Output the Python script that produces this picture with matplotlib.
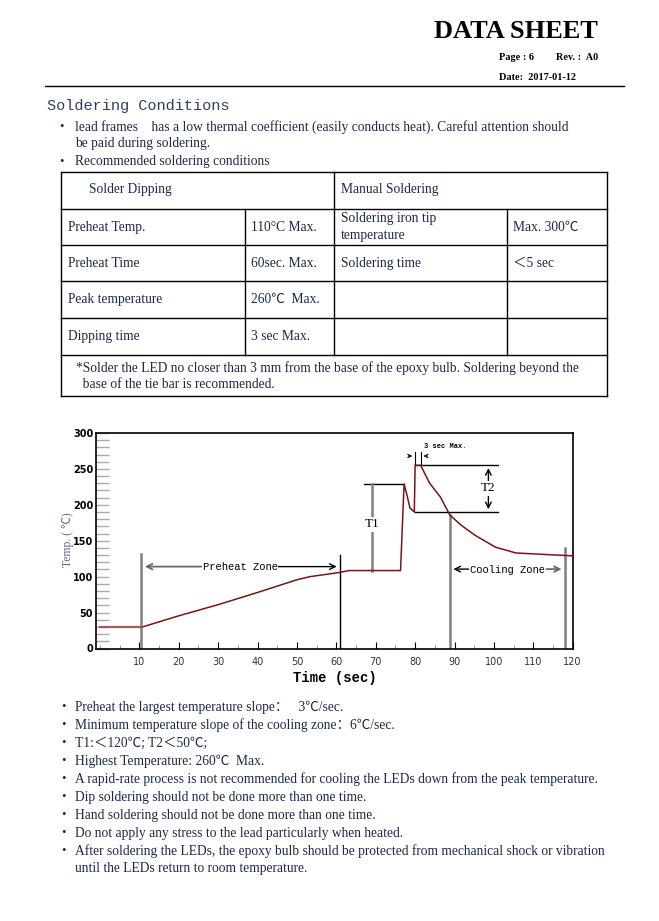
import matplotlib
matplotlib.use("Agg")
import matplotlib.pyplot as plt
from matplotlib.ticker import MultipleLocator

# Reflow profile
time_s = [10.5, 20, 30, 40, 50, 53.3, 61, 63.2, 76.3, 77.2, 78.0, 78.7, 79.8,
          80.0, 81.4, 83.7, 86.4, 88.8, 91.6, 95.1, 100.4, 105.6, 114.4, 120]
temp_c = [29.5, 45.5, 61, 78, 95.7, 100, 106, 108.5, 108.5, 229, 212, 195.5, 190,
          255, 255, 230, 211, 186, 172, 158, 141, 133, 130.5, 129]
start_time = [0, 10.5]
start_temp = [29.5, 29.5]

# Zone boundary lines (x position, height)
zone_x = [10.5, 61, 88.8, 118.1]
zone_top = [131, 129.6, 186, 140]
zone_color = ["gray", "black", "gray", "gray"]

x_ticks = [10, 20, 30, 40, 50, 60, 70, 80, 90, 100, 110, 120]
y_ticks = [0, 50, 100, 150, 200, 250, 300]

table_rows = [
    ["Preheat Temp.", "110°C Max.", "Soldering iron tip\ntemperature", "Max. 300℃"],
    ["Preheat Time", "60sec. Max.", "Soldering time", "＜5 sec"],
    ["Peak temperature", "260℃  Max.", "", ""],
    ["Dipping time", "3 sec Max.", "", ""],
]

notes = [
    "Preheat the largest temperature slope：   3℃/sec.",
    "Minimum temperature slope of the cooling zone：6℃/sec.",
    "T1:＜120℃; T2＜50℃;",
    "Highest Temperature: 260℃  Max.",
    "A rapid-rate process is not recommended for cooling the LEDs down from the peak temperature.",
    "Dip soldering should not be done more than one time.",
    "Hand soldering should not be done more than one time.",
    "Do not apply any stress to the lead particularly when heated.",
    "After soldering the LEDs, the epoxy bulb should be protected from mechanical shock or vibration\nuntil the LEDs return to room temperature.",
]

serif = ["Liberation Serif", "Noto Sans CJK SC", "DejaVu Sans"]
mono = ["Liberation Mono", "DejaVu Sans Mono"]
ink = "#1c2b4a"
fs = 9.75

fig = plt.figure(figsize=(6.59, 9.21), dpi=100)

# page layer in pixel coordinates
pg = fig.add_axes([0, 0, 1, 1])
pg.set_xlim(0, 659)
pg.set_ylim(921, 0)
pg.axis("off")


def lines(x, y, text, step=17):
    # write text line by line so the spacing matches the sheet
    for k, part in enumerate(text.split("\n")):
        pg.text(x, y + k * step, part, ha="left", va="center", fontsize=fs,
                family=serif, color=ink)


pg.text(598, 32, "DATA SHEET", ha="right", va="center", fontsize=19,
        fontweight="bold", family=serif, color="black")
pg.text(499, 58, "Page : 6", ha="left", va="center", fontsize=7.4,
        fontweight="bold", family=serif)
pg.text(556, 58, "Rev. :  A0", ha="left", va="center", fontsize=7.4,
        fontweight="bold", family=serif)
pg.text(499, 77, "Date:  2017-01-12", ha="left", va="center", fontsize=7.4,
        fontweight="bold", family=serif)
pg.plot([45, 624], [86, 86], color="black", lw=1)

pg.text(47, 106, "Soldering Conditions", ha="left", va="center", fontsize=11,
        family=mono, color="#2c4064")

pg.text(59, 127, "•", ha="left", va="center", fontsize=9, family=serif, color=ink)
lines(75, 127, "lead frames    has a low thermal coefficient (easily conducts heat). Careful attention should\nbe paid during soldering.")
pg.text(59, 162, "•", ha="left", va="center", fontsize=9, family=serif, color=ink)
lines(75, 162, "Recommended soldering conditions")

# table grid
row_y = [172, 209, 245, 281, 318, 355, 396]
for y in row_y:
    pg.plot([61, 607], [y, y], color="black", lw=1)
pg.plot([61, 61], [172, 396], color="black", lw=1)
pg.plot([607, 607], [172, 396], color="black", lw=1)
pg.plot([334, 334], [172, 355], color="black", lw=1)
pg.plot([245, 245], [209, 355], color="black", lw=1)
pg.plot([507, 507], [209, 355], color="black", lw=1)

lines(89, 190, "Solder Dipping")
lines(341, 190, "Manual Soldering")
col_x = [68, 251, 341, 513]
for i, row in enumerate(table_rows):
    yc = (row_y[i + 1] + row_y[i + 2]) / 2
    for j, cell in enumerate(row):
        n = cell.count("\n")
        lines(col_x[j], yc - n * 8.5, cell)
lines(76, 368, "*Solder the LED no closer than 3 mm from the base of the epoxy bulb. Soldering beyond the\n  base of the tie bar is recommended.", step=16)

# bottom notes
y = 707
for note in notes:
    pg.text(61, y, "•", ha="left", va="center", fontsize=9, family=serif, color=ink)
    lines(75, y, note)
    y += 18

# the chart
ax = fig.add_axes([96 / 659, 1 - 648.5 / 921, (572.7 - 96) / 659, (648.5 - 433) / 921])
ax.set_xlim(-1, 120)
ax.set_ylim(0, 300)

ax.plot(time_s, temp_c, color="#7a1414", lw=1.1, zorder=3)
ax.plot(start_time, start_temp, color="#a45a5a", lw=1.6, zorder=3)

for x, top, c in zip(zone_x, zone_top, zone_color):
    ax.plot([x, x], [0, top], color=c, lw=1.8 if c == "gray" else 1.0, zorder=2)

# preheat zone arrow
ax.annotate("", xy=(10.7, 114), xytext=(36, 114),
            arrowprops=dict(arrowstyle="->", color="dimgray", lw=1.3))
ax.annotate("", xy=(60.8, 114), xytext=(36, 114),
            arrowprops=dict(arrowstyle="->", color="black", lw=1.0))
ax.text(35.6, 113, "Preheat Zone", ha="center", va="center", fontsize=7.6,
        family=mono, bbox=dict(facecolor="white", edgecolor="none", pad=0.5))

# cooling zone arrow
ax.annotate("", xy=(89.0, 110.5), xytext=(103.4, 110.5),
            arrowprops=dict(arrowstyle="->", color="black", lw=1.0))
ax.annotate("", xy=(117.9, 110.5), xytext=(103.4, 110.5),
            arrowprops=dict(arrowstyle="->", color="dimgray", lw=1.3))
ax.text(103.4, 109.5, "Cooling Zone", ha="center", va="center", fontsize=7.6,
        family=mono, bbox=dict(facecolor="white", edgecolor="none", pad=0.5))

# T1
ax.plot([67.1, 77.2], [229, 229], color="black", lw=1.0)
ax.plot([69.1, 69.1], [108.5, 229], color="gray", lw=1.8)
ax.text(69.1, 173, "T1", ha="center", va="center", fontsize=9.5, family=serif,
        bbox=dict(facecolor="white", edgecolor="none", pad=1))

# T2
ax.plot([80, 101.1], [255, 255], color="black", lw=1.0)
ax.plot([80, 101.1], [190, 190], color="black", lw=1.0)
ax.annotate("", xy=(98.6, 255), xytext=(98.6, 190),
            arrowprops=dict(arrowstyle="<->", color="black", lw=1.0))
ax.text(98.6, 223, "T2", ha="center", va="center", fontsize=9.5, family=serif,
        bbox=dict(facecolor="white", edgecolor="none", pad=1))

# 3 sec max
ax.plot([80, 80], [255, 274], color="black", lw=0.8)
ax.plot([81.4, 81.4], [255, 274], color="black", lw=0.8)
ax.annotate("", xy=(80, 268), xytext=(77.6, 268),
            arrowprops=dict(arrowstyle="->", color="black", lw=0.8, mutation_scale=6))
ax.annotate("", xy=(81.4, 268), xytext=(83.8, 268),
            arrowprops=dict(arrowstyle="->", color="black", lw=0.8, mutation_scale=6))
ax.text(82.2, 281, "3 sec Max.", ha="left", va="center", fontsize=5,
        fontweight="bold", family=mono)

ax.set_xticks(x_ticks)
ax.set_yticks(y_ticks)
ax.xaxis.set_minor_locator(MultipleLocator(5))
ax.yaxis.set_minor_locator(MultipleLocator(10))
ax.tick_params(axis="x", which="major", direction="in", length=5, labelsize=7, pad=6,
               color="black", labelcolor="#333333")
ax.tick_params(axis="x", which="minor", direction="in", length=3, color="gray")
ax.tick_params(axis="y", which="both", direction="in", length=9, labelsize=7, pad=2,
               color="#aaaaaa", width=1.0)
for lbl in ax.get_yticklabels():
    lbl.set_fontweight("bold")
for s in ax.spines.values():
    s.set_linewidth(1.2)

pg.text(68, 540, "Temp. ( ℃)", rotation=90, ha="center", va="center", fontsize=8.5,
        family=serif, color="#5b6b8c")
pg.text(335, 678, "Time (sec)", ha="center", va="center", fontsize=10,
        fontweight="bold", family=mono)

fig.savefig("out.png", dpi=100)
